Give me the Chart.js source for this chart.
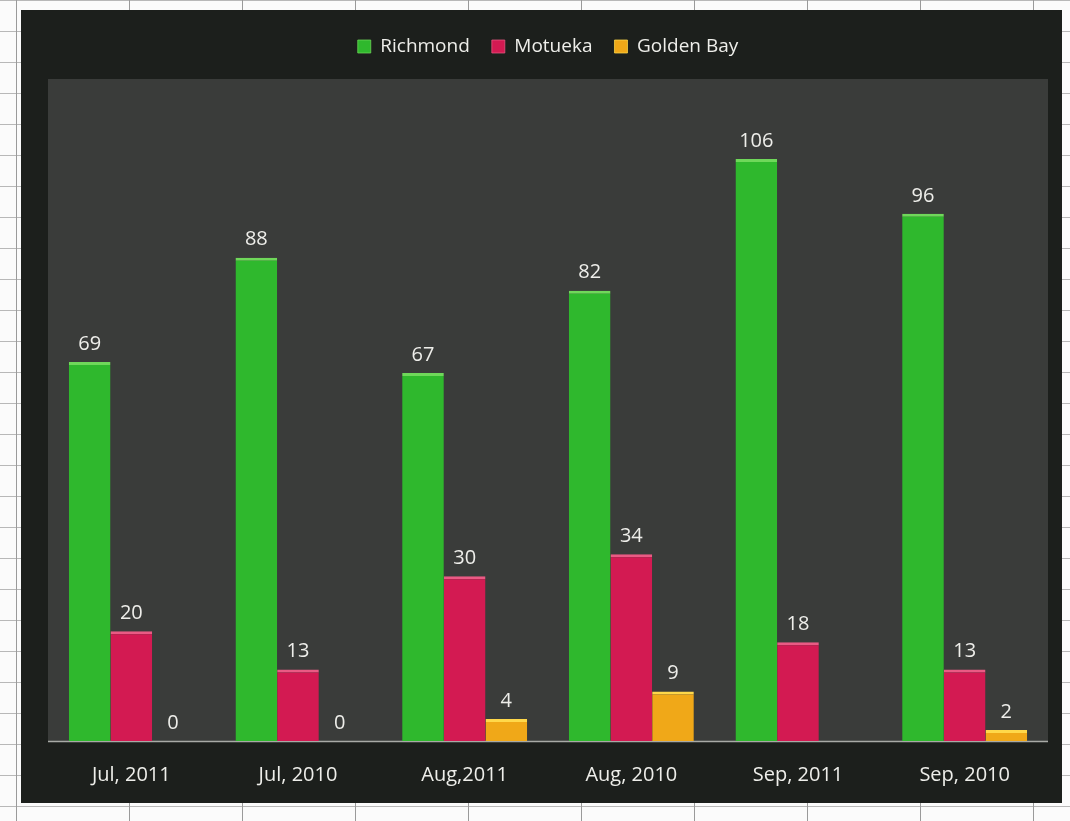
<!DOCTYPE html>
<html>
<head>
<meta charset="utf-8">
<script src="https://cdn.jsdelivr.net/npm/chart.js@4.4.0/dist/chart.umd.min.js"></script>
<style>
  html, body { margin: 0; padding: 0; }
  body {
    width: 1070px; height: 821px; position: relative; overflow: hidden;
    background-color: #fbfbfb;
    background-image:
      linear-gradient(to right, #9a9a9a 1px, transparent 1px),
      linear-gradient(to bottom, #b8b8b8 1px, transparent 1px);
    background-size: 113px 100%, 100% 31px;
    background-position: 16px 0, 0 0;
  }
  #box {
    position: absolute; left: 21px; top: 10px; width: 1041px; height: 793px;
    background: #1c1f1c;
  }
</style>
</head>
<body>
<div id="box"><canvas id="chart" width="1041" height="793"></canvas></div>
<script>
// Chart data
const months = ["Jul, 2011", "Jul, 2010", "Aug,2011", "Aug, 2010", "Sep, 2011", "Sep, 2010"];
const richmond = [69, 88, 67, 82, 106, 96];
const motueka = [20, 13, 30, 34, 18, 13];
const goldenBay = [0, 0, 4, 9, 0, 2];
const yTicks = [0, 20, 40, 60, 80, 100, 120];

const labelFont = "'Open Sans', 'DejaVu Sans', sans-serif";

// Grey plot area behind the bars
const plotBg = {
  id: "plotBg",
  beforeDraw(chart) {
    const { ctx, chartArea: a } = chart;
    ctx.save();
    ctx.fillStyle = "#3a3c3a";
    ctx.fillRect(a.left, a.top - 3, a.right - a.left, a.bottom - a.top + 3);
    ctx.strokeStyle = "#a8aaa6";
    ctx.lineWidth = 1.5;
    ctx.beginPath();
    ctx.moveTo(a.left, a.bottom + 0.5);
    ctx.lineTo(a.right, a.bottom + 0.5);
    ctx.stroke();
    ctx.restore();
  }
};

// extra room under the legend
const legendGap = {
  id: "legendGap",
  beforeInit(chart) {
    const fit = chart.legend.fit;
    chart.legend.fit = function () {
      fit.bind(chart.legend)();
      this.height += 16;
    };
  }
};

// Value labels above each bar (no label for the missing Sep 2011 golden bay)
const valueLabels = {
  id: "valueLabels",
  afterDatasetsDraw(chart) {
    const { ctx } = chart;
    ctx.save();
    ctx.fillStyle = "#eeeeea";
    ctx.font = "20px " + labelFont;
    ctx.textAlign = "center";
    ctx.textBaseline = "bottom";
    chart.data.datasets.forEach((ds, i) => {
      const meta = chart.getDatasetMeta(i);
      meta.data.forEach((bar, j) => {
        if (i === 2 && j === 4) return;
        ctx.fillText(ds.data[j], bar.x, bar.y - 8);
      });
    });
    ctx.restore();
  }
};

const ctx = document.getElementById("chart").getContext("2d");
new Chart(ctx, {
  type: "bar",
  data: {
    labels: months,
    datasets: [
      { label: "Richmond", data: richmond, backgroundColor: "#2fb82d", borderColor: "#6fd85a", borderWidth: { top: 3 }, borderSkipped: "bottom" },
      { label: "Motueka", data: motueka, backgroundColor: "#d31a52", borderColor: "#ea5a84", borderWidth: { top: 3 }, borderSkipped: "bottom" },
      { label: "Golden Bay", data: goldenBay, backgroundColor: "#f0a818", borderColor: "#ffd84a", borderWidth: { top: 3 }, borderSkipped: "bottom" }
    ]
  },
  options: {
    responsive: false,
    animation: false,
    layout: { padding: { left: 27, right: 14, top: 5, bottom: 2 } },
    datasets: { bar: { categoryPercentage: 0.75, barPercentage: 1 } },
    plugins: {
      legend: {
        position: "top",
        labels: {
          color: "#eeeeea",
          font: { family: labelFont, size: 19 },
          boxWidth: 13,
          boxHeight: 13,
          padding: 22,
          useBorderRadius: false
        }
      },
      tooltip: { enabled: false }
    },
    scales: {
      x: {
        grid: { display: false },
        border: { display: false },
        ticks: { color: "#eeeeea", font: { family: labelFont, size: 20 }, padding: 14 }
      },
      y: {
        display: false,
        min: yTicks[0],
        max: yTicks[yTicks.length - 1]
      }
    }
  },
  plugins: [plotBg, legendGap, valueLabels]
});
</script>
</body>
</html>
